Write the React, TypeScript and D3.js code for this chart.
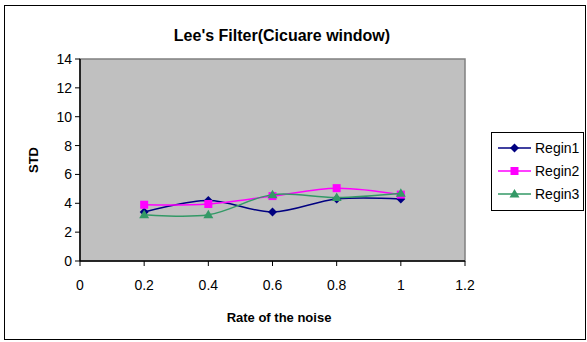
import React from "react";
import * as d3 from "d3";

const rates = [0.2, 0.4, 0.6, 0.8, 1.0];
const regin1 = [3.4, 4.2, 3.4, 4.3, 4.3];
const regin2 = [3.9, 3.95, 4.5, 5.05, 4.6];
const regin3 = [3.2, 3.2, 4.6, 4.4, 4.7];
const seriesNames = ["Regin1", "Regin2", "Regin3"];
const seriesColors = ["#000080", "#ff00ff", "#339966"];
const xTicks = [0, 0.2, 0.4, 0.6, 0.8, 1, 1.2];
const yTicks = [0, 2, 4, 6, 8, 10, 12, 14];

const W = 587;
const H = 342;
const plot = { left: 80, right: 465, top: 59, bottom: 261 };
const font = "'Liberation Sans', Arial, sans-serif";

function Marker({ kind, x, y, color }: { kind: number; x: number; y: number; color: string }) {
  if (kind === 0) {
    const s = 4.5;
    return <path d={`M${x},${y - s}L${x + s},${y}L${x},${y + s}L${x - s},${y}Z`} fill={color} />;
  }
  if (kind === 1) {
    return <rect x={x - 4} y={y - 4} width={8} height={8} fill={color} />;
  }
  const s = 5;
  return <path d={`M${x},${y - s}L${x + s},${y + s * 0.7}L${x - s},${y + s * 0.7}Z`} fill={color} />;
}

export default function App() {
  const x = d3.scaleLinear().domain([0, 1.2]).range([plot.left, plot.right]);
  const y = d3.scaleLinear().domain([0, 14]).range([plot.bottom, plot.top]);
  const data = [regin1, regin2, regin3];
  const line = d3
    .line<[number, number]>()
    .x((d) => x(d[0]))
    .y((d) => y(d[1]))
    .curve(d3.curveCatmullRom.alpha(0.5));

  const legendX = 491;
  const legendY = 132;

  return (
    <svg
      width={W}
      height={H}
      style={{ position: "absolute", left: 0, top: 0, background: "#fff" }}
      fontFamily={font}
    >
      <rect x={4.5} y={5.5} width={581} height={334} fill="#fff" stroke="#000" strokeWidth={1} />
      <text x={282} y={41} textAnchor="middle" fontSize={16} fontWeight="bold">
        Lee's Filter(Cicuare window)
      </text>

      <rect
        x={plot.left}
        y={plot.top}
        width={plot.right - plot.left}
        height={plot.bottom - plot.top}
        fill="#c0c0c0"
        stroke="#808080"
        strokeWidth={1.5}
      />
      <line x1={plot.left} y1={plot.top} x2={plot.left} y2={plot.bottom} stroke="#000" strokeWidth={1.5} />
      <line x1={plot.left} y1={plot.bottom} x2={plot.right} y2={plot.bottom} stroke="#000" strokeWidth={1.5} />

      {yTicks.map((t) => (
        <g key={`y${t}`}>
          <line x1={plot.left - 5} x2={plot.left} y1={y(t)} y2={y(t)} stroke="#000" />
          <text x={plot.left - 8} y={y(t) + 5} textAnchor="end" fontSize={14}>
            {t}
          </text>
        </g>
      ))}
      {xTicks.map((t) => (
        <g key={`x${t}`}>
          <line x1={x(t)} x2={x(t)} y1={plot.bottom} y2={plot.bottom + 5} stroke="#000" />
          <text x={x(t)} y={plot.bottom + 29} textAnchor="middle" fontSize={14}>
            {t}
          </text>
        </g>
      ))}

      <text x={279} y={322} textAnchor="middle" fontSize={13} fontWeight="bold">
        Rate of the noise
      </text>
      <text
        transform={`translate(38,${(plot.top + plot.bottom) / 2}) rotate(-90)`}
        textAnchor="middle"
        fontSize={13}
        fontWeight="bold"
      >
        STD
      </text>

      {data.map((vals, i) => {
        const pts = rates.map((r, j) => [r, vals[j]] as [number, number]);
        return (
          <g key={seriesNames[i]}>
            <path d={line(pts) ?? ""} fill="none" stroke={seriesColors[i]} strokeWidth={1.5} />
            {pts.map((p, j) => (
              <Marker key={j} kind={i} x={x(p[0])} y={y(p[1])} color={seriesColors[i]} />
            ))}
          </g>
        );
      })}

      <rect x={legendX + 0.5} y={legendY + 0.5} width={92} height={78} fill="#fff" stroke="#000" />
      {seriesNames.map((name, i) => {
        const cy = legendY + 16 + i * 23;
        return (
          <g key={name}>
            <line x1={legendX + 7} x2={legendX + 40} y1={cy} y2={cy} stroke={seriesColors[i]} strokeWidth={1.5} />
            <Marker kind={i} x={legendX + 23.5} y={cy} color={seriesColors[i]} />
            <text x={legendX + 44} y={cy + 5} fontSize={14}>
              {name}
            </text>
          </g>
        );
      })}
    </svg>
  );
}
